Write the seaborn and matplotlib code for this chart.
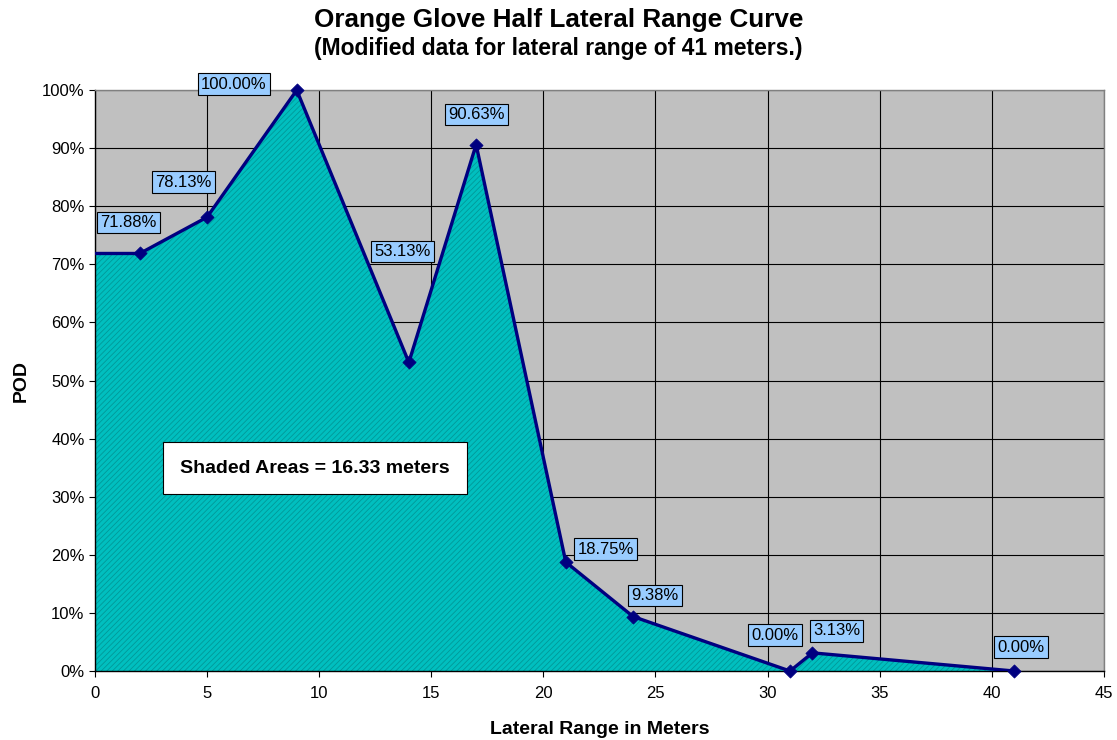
import matplotlib
matplotlib.use("Agg")
import matplotlib.pyplot as plt
import numpy as np
import pandas as pd
import seaborn as sns

# lateral range (m) and probability of detection (%)
lateral_range = [0, 2, 5, 9, 14, 17, 21, 24, 31, 32, 41]
pod_percent = [71.88, 71.88, 78.13, 100.00, 53.13, 90.63, 18.75, 9.38, 0.00, 3.13, 0.00]
point_labels = ["", "71.88%", "78.13%", "100.00%", "53.13%", "90.63%",
                "18.75%", "9.38%", "0.00%", "3.13%", "0.00%"]
# label offsets from their point, in pixels
label_offsets = [(0, 0), (-11, 31), (-24, 35), (-63, 6), (-6, 111), (0, 30),
                 (40, 13), (22, 21), (-15, 36), (24, 22), (7, 24)]

title = "Orange Glove Half Lateral Range Curve"
subtitle = "(Modified data for lateral range of 41 meters.)"
area_note = "Shaded Areas = 16.33 meters"

sns.set_style("white")
plt.rcParams["font.family"] = ["Liberation Sans", "DejaVu Sans"]
plt.rcParams["text.color"] = "black"
plt.rcParams["axes.labelcolor"] = "black"
plt.rcParams["hatch.linewidth"] = 0.6

df = pd.DataFrame({"range": lateral_range, "pod": pod_percent})

fig = plt.figure(figsize=(11.17, 7.4), dpi=100)
ax = fig.add_axes([0.085, 0.0932, 0.9033, 0.785])
ax.set_facecolor("#C0C0C0")

ax.fill_between(df["range"], df["pod"], 0, facecolor="#00BFBF", linewidth=0, zorder=2)
ax.fill_between(df["range"], df["pod"], 0, facecolor="none", edgecolor="#009898",
                hatch="//////", linewidth=0, zorder=2)

sns.lineplot(data=df, x="range", y="pod", color="#000080", linewidth=2.4, ax=ax, zorder=3)
sns.scatterplot(data=df.iloc[1:], x="range", y="pod", marker="D", s=45, color="#000080",
                edgecolor="#000080", ax=ax, zorder=4, clip_on=False)

for x, y, lab, (dx, dy) in zip(lateral_range, pod_percent, point_labels, label_offsets):
    if not lab:
        continue
    ax.annotate(lab, (x, y), xytext=(dx, dy), textcoords="offset pixels",
                ha="center", va="center", fontsize=12, zorder=5,
                bbox=dict(boxstyle="square,pad=0.2", fc="#99CCFF", ec="black", lw=0.8))

ax.text(0.218, 0.349, area_note, transform=ax.transAxes, ha="center", va="center",
        fontsize=14, fontweight="bold", zorder=5,
        bbox=dict(boxstyle="square,pad=0.9", fc="white", ec="black", lw=0.8))

ax.set_xlim(0, 45)
ax.set_ylim(0, 100)
ax.set_xticks(range(0, 46, 5))
ax.set_yticks(range(0, 101, 10))
ax.set_yticklabels([f"{v}%" for v in range(0, 101, 10)])
ax.grid(True, color="black", linewidth=0.8, zorder=1)
ax.set_axisbelow(True)
ax.tick_params(axis="both", which="both", direction="out", length=4, width=0.8,
               labelsize=12, left=True, bottom=True, colors="black")
ax.tick_params(axis="x", pad=7)
for side in ["top", "right"]:
    ax.spines[side].set_color("#808080")
for side in ["left", "bottom"]:
    ax.spines[side].set_color("black")
for sp in ax.spines.values():
    sp.set_linewidth(1)

ax.set_xlabel("Lateral Range in Meters", fontsize=14, fontweight="bold", labelpad=14)
ax.set_ylabel("POD", fontsize=14, fontweight="bold", labelpad=9)

fig.text(0.5, 0.973, title, ha="center", va="center", fontsize=18.8, fontweight="bold")
fig.text(0.5, 0.935, subtitle, ha="center", va="center", fontsize=16.5, fontweight="bold")

fig.savefig("out.png", dpi=100)
